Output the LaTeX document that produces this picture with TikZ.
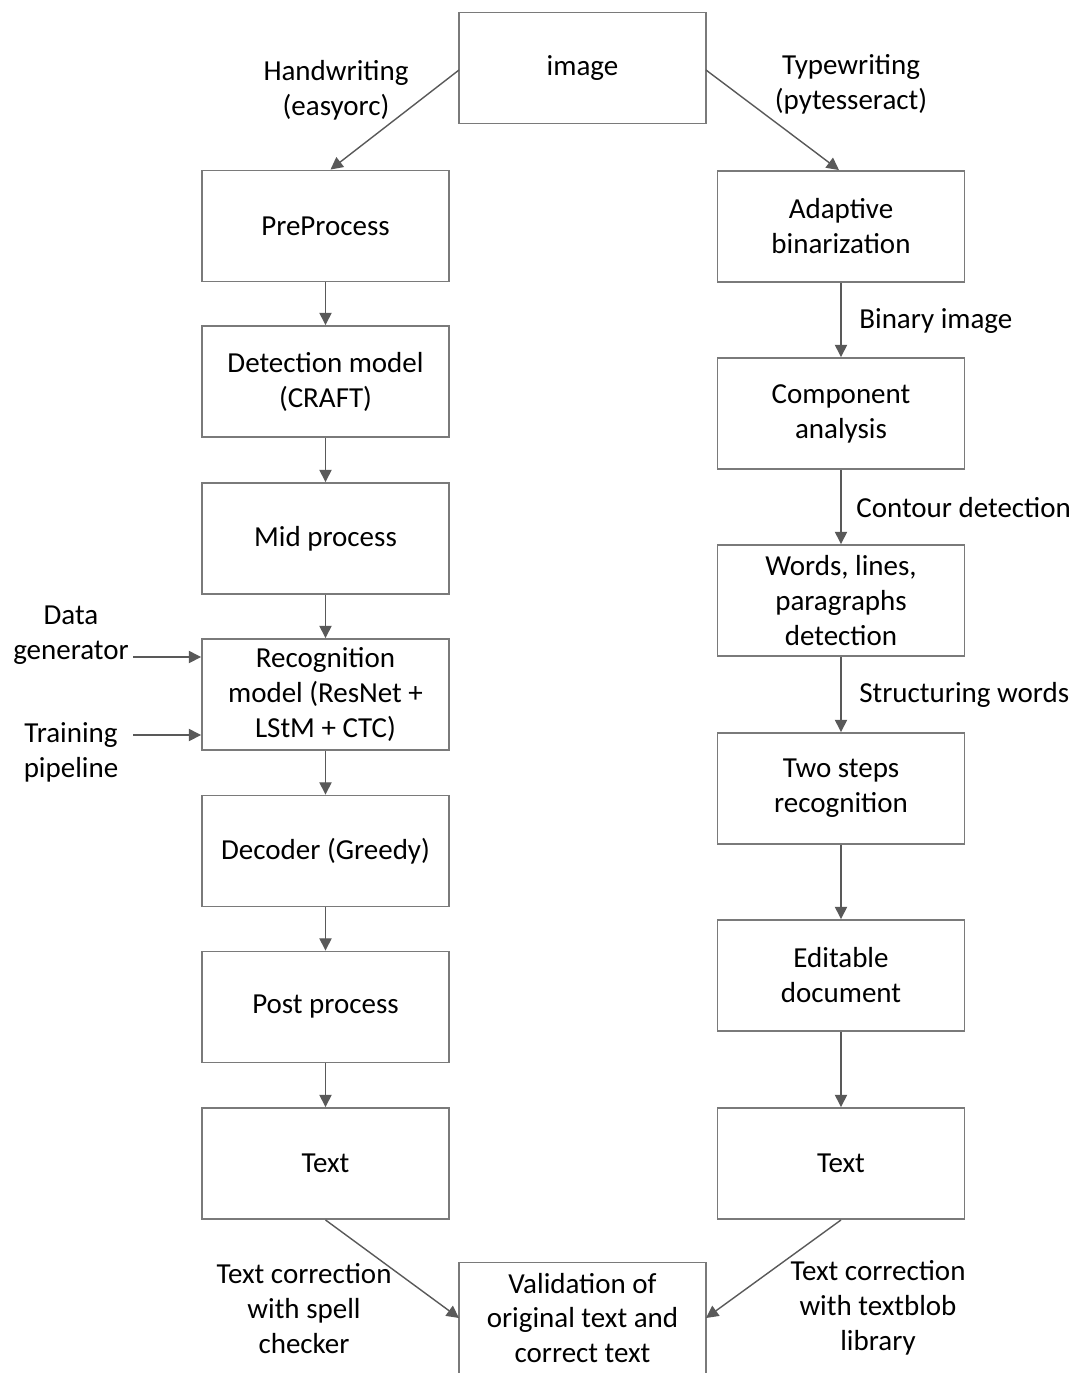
\documentclass[tikz,border=0pt]{standalone}
\usepackage{fontspec}
\setmainfont{Carlito}
\usepackage{tikz}
\usetikzlibrary{calc}
\usetikzlibrary{arrows.meta}
\usetikzlibrary{positioning}
\definecolor{linegray}{HTML}{595959}
\definecolor{boxgray}{HTML}{7A7A7A}
\tikzset{>={Triangle[length=7pt,width=7pt]}}
\tikzstyle{stage} = [draw=boxgray, line width=1.1pt, fill=white, minimum width=4.94cm, minimum height=2.22cm, align=center, inner sep=2pt]
\tikzstyle{lbl} = [draw=none, align=center, inner sep=0]
\tikzstyle{flow} = [->, draw=linegray, line width=0.8pt]

\begin{document}
\begin{tikzpicture}[x=0.02cm, y=-0.02cm, font=\fontsize{16.5}{19.9}\selectfont]
\useasboundingbox (0,0) rectangle (1078,1373);
% top
\node [stage] (img) at (582.5, 68) {image};
% handwriting branch
\node [stage] (pre) at (325.5, 226) {PreProcess};
\node [stage] (det) at (325.5, 381.5) {Detection model\\(CRAFT)};
\node [stage] (mid) at (325.5, 538.5) {Mid process};
\node [stage] (rec) at (325.5, 694.5) {Recognition\\model (ResNet +\\LStM + CTC)};
\node [stage] (dec) at (325.5, 851) {Decoder (Greedy)};
\node [stage] (post) at (325.5, 1007) {Post process};
\node [stage] (txtL) at (325.5, 1163.5) {Text};
% typewriting branch
\node [stage] (bin) at (841, 226.5) {Adaptive\\binarization};
\node [stage] (comp) at (841, 413.5) {Component\\analysis};
\node [stage] (words) at (841, 600.5) {Words, lines,\\paragraphs\\detection};
\node [stage] (two) at (841, 788.5) {Two steps\\recognition};
\node [stage] (edit) at (841, 975.5) {Editable\\document};
\node [stage] (txtR) at (841, 1163.5) {Text};
% bottom
\node [stage] (val) at (582.5, 1318) {Validation of\\original text and\\correct text};

% labels
\node [lbl] (hw) at (336, 90) {Handwriting\\(easyorc)};
\node [lbl] (tw) at (851, 84) {Typewriting\\(pytesseract)};
\node [lbl, anchor=west] (binimg) at (859, 321) {Binary image};
\node [lbl, anchor=west] (cont) at (856, 508) {Contour detection};
\node [lbl, anchor=west] (struct) at (859, 695) {Structuring words};
\node [lbl] (dg) at (71, 635) {Data\\generator};
\node [lbl] (tp) at (71, 752) {Training\\pipeline};
\node [lbl] (spell) at (304, 1309) {Text correction\\with spell\\checker};
\node [lbl] (blob) at (878, 1308) {Text correction\\with textblob\\library};

% connectors
\coordinate (imgL) at (459, 70);
\coordinate (imgR) at (706, 70);
\coordinate (dgend) at (133, 657);
\coordinate (tpend) at (133, 735);
\coordinate (valL) at (459, 1318);
\coordinate (valR) at (706, 1318);
\draw [flow] (imgL) to ($(pre.north)+(5,0)$);
\draw [flow] (imgR) to ($(bin.north)+(-2,0)$);
\draw [flow] (pre) to (det);
\draw [flow] (det) to (mid);
\draw [flow] (mid) to (rec);
\draw [flow] (rec) to (dec);
\draw [flow] (dec) to (post);
\draw [flow] (post) to (txtL);
\draw [flow] (bin) to (comp);
\draw [flow] (comp) to (words);
\draw [flow] (words) to (two);
\draw [flow] (two) to (edit);
\draw [flow] (edit) to (txtR);
\draw [flow] (dgend) to (dgend -| rec.west);
\draw [flow] (tpend) to (tpend -| rec.west);
\draw [flow] (txtL.south) to (valL);
\draw [flow] (txtR.south) to (valR);
\end{tikzpicture}
\end{document}
